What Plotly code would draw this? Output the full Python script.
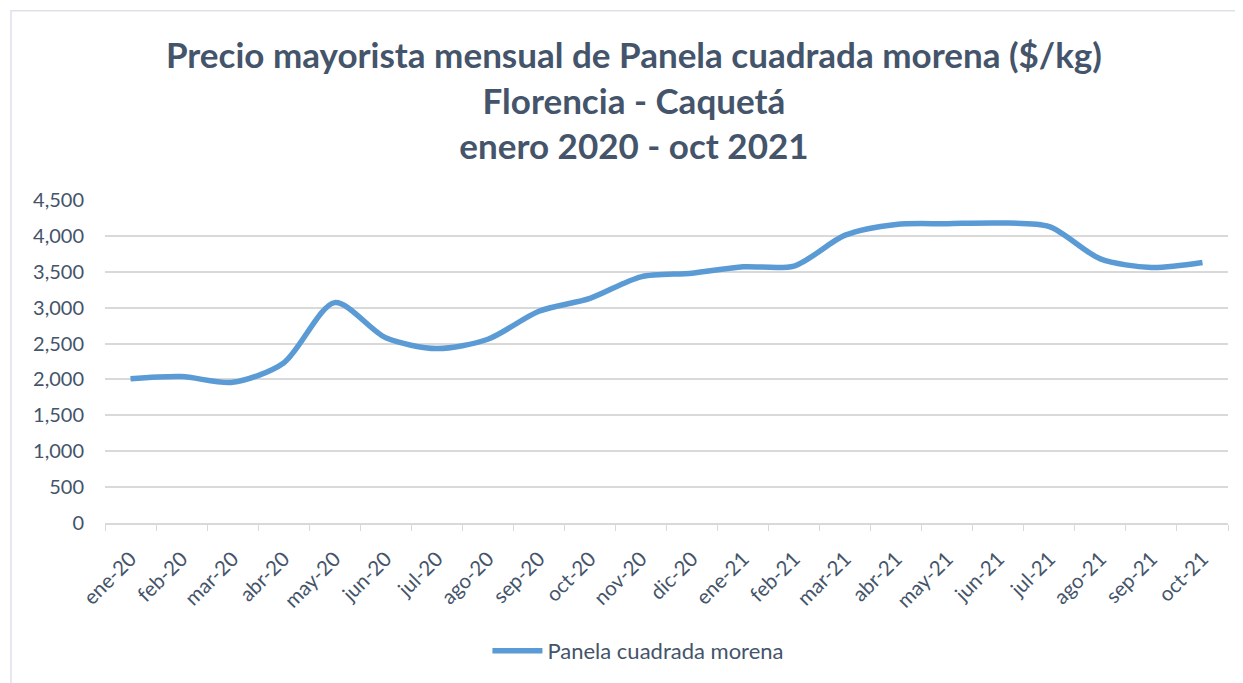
import plotly.graph_objects as go

# monthly wholesale price, Florencia - Caquetá ($/kg)
months = ["ene-20", "feb-20", "mar-20", "abr-20", "may-20", "jun-20", "jul-20", "ago-20",
          "sep-20", "oct-20", "nov-20", "dic-20", "ene-21", "feb-21", "mar-21", "abr-21",
          "may-21", "jun-21", "jul-21", "ago-21", "sep-21", "oct-21"]
price = [2010, 2040, 1960, 2230, 3070, 2580, 2430, 2560, 2950, 3130, 3430, 3480,
         3570, 3580, 4010, 4160, 4170, 4180, 4130, 3680, 3560, 3630]
series_name = "Panela cuadrada morena"

y_ticks = list(range(0, 4501, 500))

TXT = "#44546A"
GRID = "#D9D9D9"
FONT = "Lato"

# page body has an 8px margin, so the figure is sized a bit smaller
fig = go.Figure(
    data=[
        go.Scatter(x=months, y=price, name=series_name, mode="lines",
                   line=dict(color="#5B9BD5", width=5.5, shape="spline", smoothing=0.8)),
    ],
    layout=go.Layout(
        width=1235, height=675,
        margin=dict(l=97, r=15, t=192, b=159),
        paper_bgcolor="white", plot_bgcolor="white",
        font=dict(family=FONT, color=TXT, size=20),
        title=dict(
            text="Precio mayorista mensual de Panela cuadrada morena ($/kg)<br>Florencia - Caquetá<br>enero 2020 - oct 2021",
            font=dict(family=FONT, size=35, color=TXT, weight="bold"),
            x=0.471, xref="paper", xanchor="center",
            y=0.911, yref="container", yanchor="middle",
        ),
        xaxis=dict(type="category", range=[-0.5, len(months) - 0.5], tickangle=-45,
                   tickson="boundaries", ticks="outside", ticklen=6, tickcolor=GRID,
                   showline=True, linecolor=GRID, linewidth=1.5, showgrid=False,
                   ticklabelstandoff=14, tickfont=dict(size=20.5, color=TXT)),
        yaxis=dict(range=[0, 4500], tickvals=y_ticks, tickformat=",d", showgrid=True,
                   gridcolor=GRID, gridwidth=1.5, zeroline=False, showline=False,
                   ticklabelstandoff=20, tickfont=dict(size=20, color=TXT)),
        showlegend=True,
        legend=dict(orientation="h", x=0.475, xanchor="center", y=-0.392, yanchor="middle",
                    font=dict(size=22, color=TXT), itemwidth=50),
        shapes=[dict(type="rect", xref="paper", yref="paper", x0=-0.0837, x1=1.03,
                     y0=-0.7, y1=1.586, line=dict(color="#DDE1EA", width=1.5))],
    ),
)

fig.write_html("out.html")
